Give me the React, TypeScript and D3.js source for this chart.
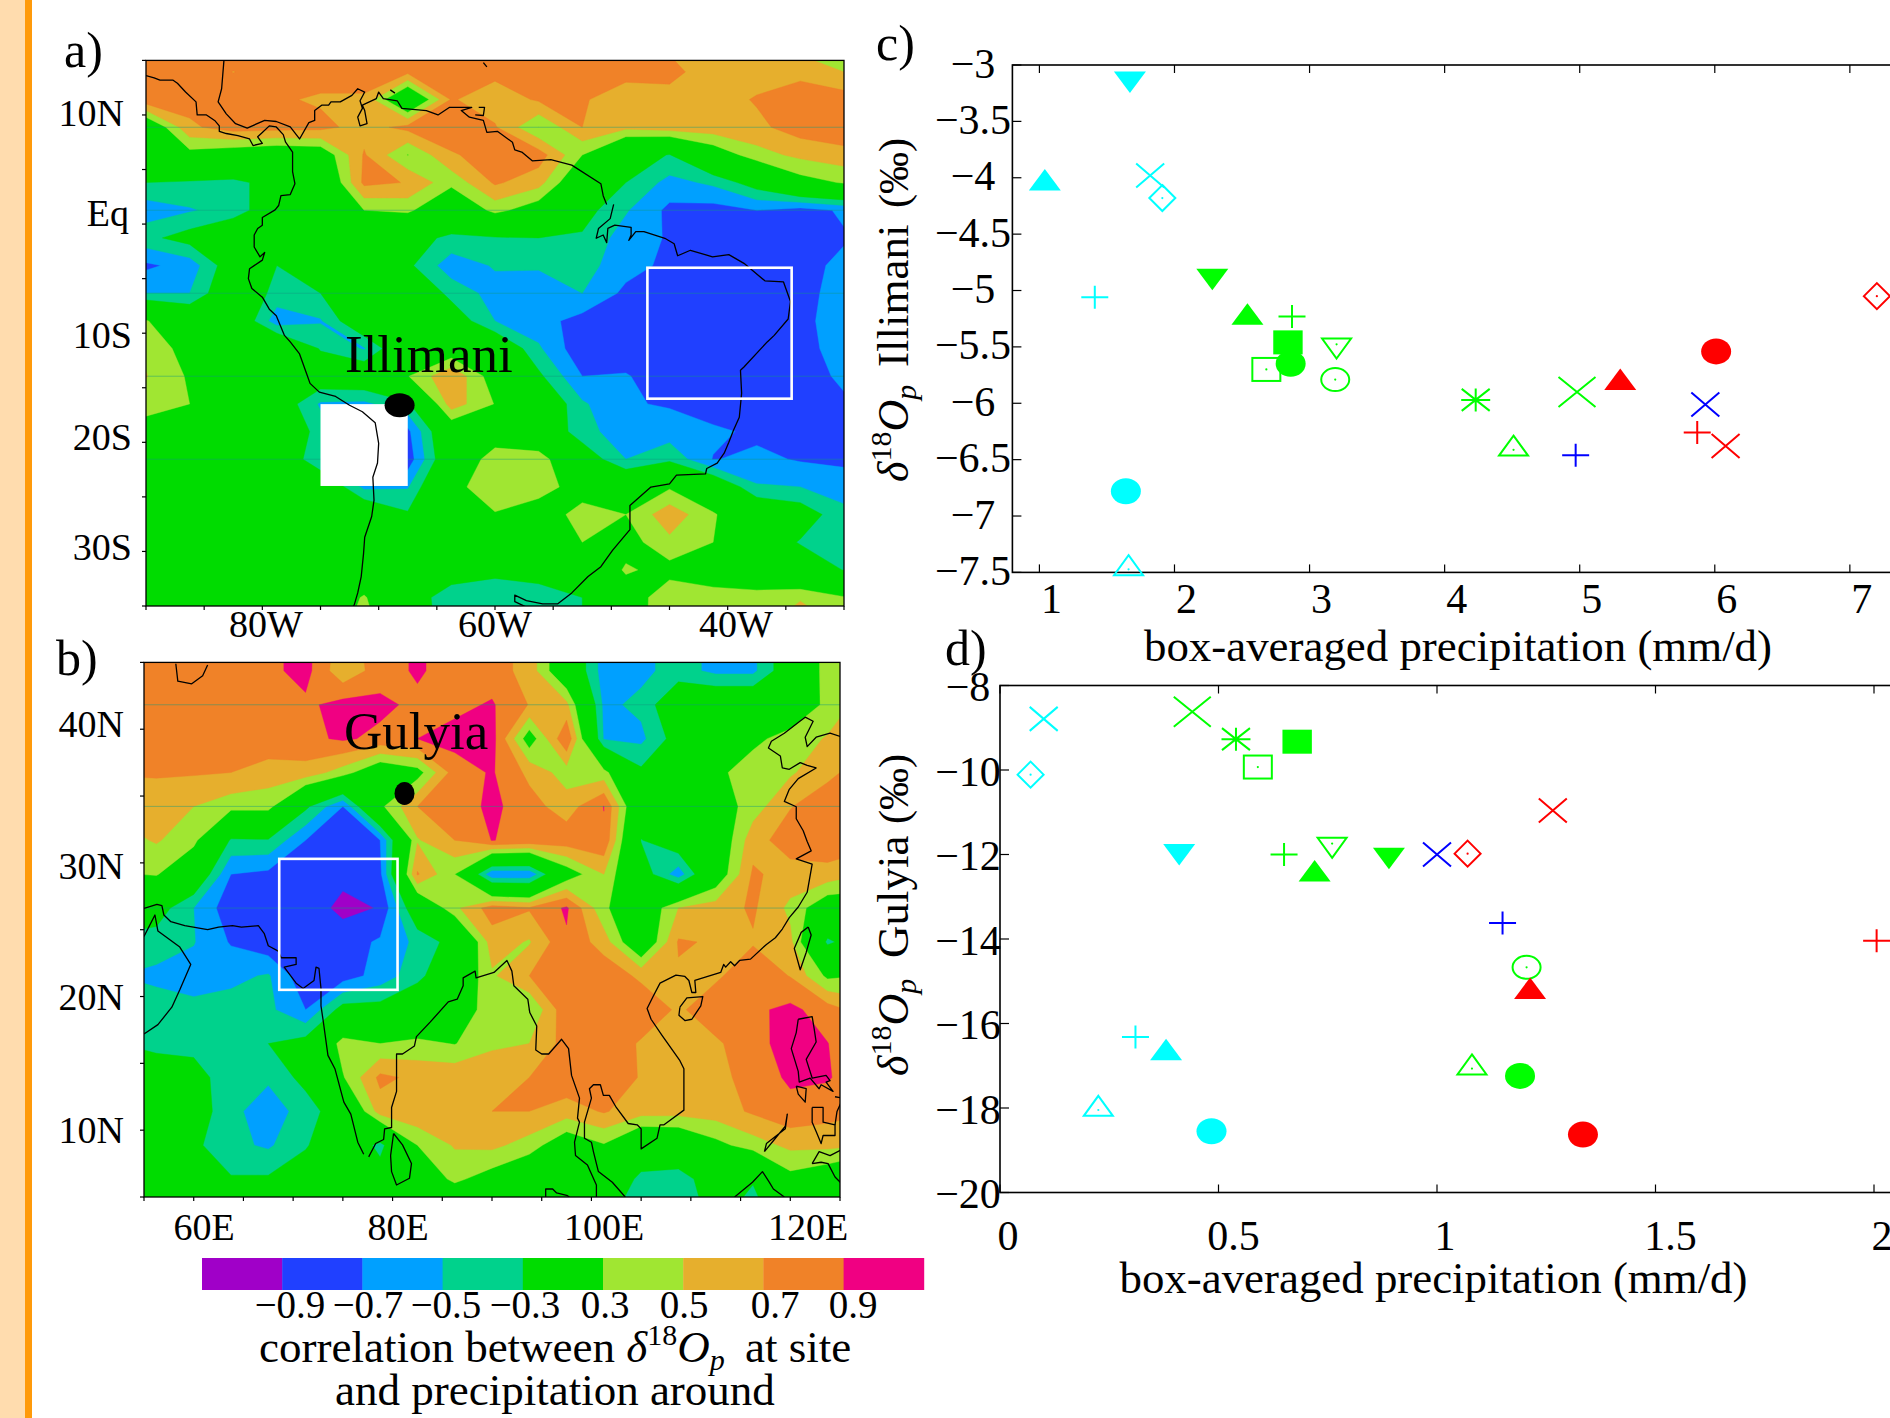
import React from 'react';
import * as d3 from 'd3';

// contour levels and their colours, lowest band first
const levels = [-0.9, -0.7, -0.5, -0.3, 0.3, 0.5, 0.7, 0.9];
const bandColors = ['#a000c8', '#2040ff', '#00a0ff', '#00d28c', '#00dc00', '#a0e632', '#e6af2d', '#f08228', '#f00082'];
const levelLabels = ['−0.9', '−0.7', '−0.5', '−0.3', '0.3', '0.5', '0.7', '0.9'];

// Illimani map: correlation on the model grid, rows k=29..50, lon -90..-30 step 3.75
const illimaniGrid = [
  [.85,.85,.85,.85,.85,.85,.8,.8,.85,.85,.85,.8,.65,.55,.5,.4,.35],
  [.85,.82,.695,.8,.8,.8,.75,.8,.76,.85,.85,.76,.78,.56,.6,.65,.5],
  [.83,.78,.85,.73,.67,.67,-.1,.72,.58,.727,.72,.6,.6,.6,.72,.8,.8],
  [0,.66,.8,.78,.76,.62,.76,.82,.72,.299,.7,.55,.61,.62,.65,.8,.85],
  [-.05,.21,.12,.05,.1,.72,.29,.68,.78,.8,.3,-.18,-.31,.12,.42,.55,.625],
  [-.3,-.33,-.36,-.2,-.1,.75,.69,.36,.73,.58,0,-.3,-.57,-.46,-.17,.2,.32],
  [-.62,-.52,-.42,-.1,-.1,.3,.35,0,.37,.15,-.2,-.48,-.75,-.78,-.7,-.78,-.67],
  [-.36,-.2,0,0,-.1,0,-.2,-.35,-.32,-.3,-.33,-.6,-.72,-.85,-.85,-.85,-.72],
  [-.74,-.62,-.12,-.3,0,0,-.25,-.62,-.48,-.47,-.42,-.62,-.75,-.85,-.85,-.77,-.65],
  [-.5,-.5,-.03,-.38,-.3,0,0,-.37,-.58,-.65,-.5,-.75,-.88,-.85,-.85,-.78,-.6],
  [.32,0,0,-.62,-.52,-.03,-.1,-.13,-.5,-.62,-.78,-.85,-.88,-.85,-.85,-.78,-.55],
  [.45,.2,0,.1,-.32,-.52,0,.1,0,-.47,-.85,-.85,-.85,-.85,-.85,-.78,-.6],
  [.51,.27,0,0,-.1,-.05,.29,.68,.16,-.25,-.7,-.68,-.85,-.85,-.85,-.82,-.65],
  [.42,.3,0,-.1,-.53,-.55,-.35,.61,.29,0,-.47,-.68,-.72,-.85,-.85,-.85,-.74],
  [.15,.1,0,0,-.4,-.85,-.75,.07,.1,-.05,-.42,-.62,-.6,-.65,-.75,-.85,-.85],
  [.1,.1,0,0,-.5,-.85,-.82,0,.44,.44,-.12,-.5,-.35,-.71,-.65,-.72,-.75],
  [.05,.05,0,0,0,-.55,-.52,.2,.48,.48,.1,.05,.27,0,-.48,-.5,-.58],
  [.05,.05,0,0,0,0,-.27,0,.28,.05,.45,.3,.63,.33,0,-.15,-.45],
  [.05,.05,0,0,0,0,0,0,0,.1,.3,.2,.45,.3,-.1,-.32,-.42],
  [.05,.05,0,0,0,0,0,-.15,-.22,-.15,0,.33,.22,.2,0,-.1,-.31],
  [.05,.05,0,0,0,.33,-.15,-.43,-.48,-.45,-.3,.15,.44,.36,.41,.47,.32],
  [.05,.05,0,0,0,.45,-.15,-.4,-.4,-.4,-.3,.15,.45,.42,.42,.7,.45],
];

// Gulyia map: rows k=17..34, lon 52.5..127.5 step 3.75
const gulyiaGrid = [
  [.8,.8,.8,.8,.85,.97,.6,.8,.93,.8,.8,.62,.02,-.6,-.55,-.42,-.55,-.55,-.1,.41,.5],
  [.8,.8,.8,.8,.85,.97,.55,.8,.93,.8,.8,.62,.02,-.6,-.55,-.42,-.55,-.55,-.1,.41,.5],
  [.8,.8,.8,.8,.8,.86,.97,.95,.85,.85,.92,.69,.55,-.55,-.45,-.05,0,0,.1,.35,.6],
  [.8,.8,.8,.8,.85,.85,.93,.85,.9,.97,.98,.16,.88,-.52,-.55,-.18,.1,.25,.38,.52,.65],
  [.72,.72,.72,.7,.6,.62,.4,.05,.2,.8,.92,.65,.4,.38,-.25,0,.25,.4,.47,.65,.8],
  [.55,.6,.5,.38,.38,-.25,-.7,.25,.7,.78,.95,.78,.6,.905,-.1,-.05,.15,.4,.69,.82,.8],
  [.42,.52,.37,-.33,-.32,-.7,-.88,-.7,.48,.7,.905,.85,.82,.87,-.31,-.1,.05,.62,.8,.85,.8],
  [.28,.32,0,-.7,-.75,-.85,-.85,-.75,.72,.3,-.67,-.67,.15,.5,-.15,-.62,.1,.73,.62,.62,.5],
  [0,-.18,-.5,-.83,-.85,-.8,-.95,-.89,-.05,.45,.8,.72,.93,.34,.05,.5,.6,.73,.45,.1,.1],
  [-.4,-.4,-.49,-.72,-.85,-.85,-.8,-.67,-.45,-.2,.6,.48,.87,.6,0,.72,.68,.68,.55,-.35,-.1],
  [-.5,-.55,-.58,-.55,-.48,-.85,-.8,-.62,-.38,0,.47,.7,.88,.85,.65,.675,.66,.85,.69,.25,.3],
  [-.4,-.4,-.45,-.42,-.45,-.7,-.2,-.2,0,.12,.42,.295,.85,.88,.88,.66,.85,.86,.95,.8,.6],
  [-.3,-.38,-.37,-.45,-.3,-.2,.4,.3,.35,.29,.46,.5,.78,.88,.67,.6,.66,.85,.96,.905,.7],
  [-.05,-.1,-.2,-.43,-.47,-.22,.28,.75,.65,.65,.65,.7,.85,.88,.68,.6,.62,.8,.93,.92,.75],
  [0,0,-.15,-.45,-.6,-.42,-.12,.6,.67,.68,.7,.7,.6,.72,.58,.58,.6,.73,.84,.78,.72],
  [0,0,-.25,-.45,-.53,-.33,0,-.38,.3,.52,.55,.41,.1,.28,-.05,-.02,.23,.4,.55,.55,.5],
  [0,0,-.05,-.28,-.27,-.1,0,-.15,.1,.35,.18,0,0,0,-.37,-.42,-.13,-.27,.22,.1,-.15],
  [0,0,0,0,0,0,0,0,0,-.1,0,0,-.1,-.2,-.5,-.5,-.2,-.45,0,-.25,-.5],
];

// coastlines, lon/lat
const saPacific = [[-90,13.6],[-89.3,13.4],[-88.8,13.2],[-87.7,13.2],[-87.3,12.9],[-86.6,12.1],[-85.7,11.2],[-85.6,10],[-84.8,10],[-84.1,9.5],[-83.7,9],[-83.7,8.5],[-83.1,8.3],[-82.1,8.1],[-81.1,7.8],[-80.8,7.2],[-80,7.4],[-80.4,8],[-80,8.4],[-79.4,9],[-78.8,8.9],[-78.2,8.2],[-78,7.5],[-77.4,6.6],[-77.4,4.8],[-77.2,3.7],[-77.6,2.7],[-78.4,2.6],[-78.6,1.7],[-78.9,1.3],[-80,.6],[-80,-.1],[-80.4,-.4],[-80.7,-1],[-80.7,-2.1],[-80.2,-3],[-79.8,-2.6],[-80,-3.3],[-81.1,-4.1],[-81.2,-5],[-80.9,-5.9],[-80,-6.7],[-79.4,-7.8],[-78.8,-8.4],[-78.1,-10.2],[-77.6,-10.8],[-76.8,-11.9],[-76.2,-13.7],[-75.9,-14.6],[-75.1,-15.4],[-73.7,-15.8],[-72.5,-16.6],[-71.4,-17.2],[-70.3,-18.2],[-70,-20.1],[-70.1,-21.9],[-70.5,-23.2],[-70.4,-25.3],[-70.6,-26.8],[-71.2,-28.7],[-71.3,-30.2],[-71.5,-32.3],[-71.8,-33.8],[-72.1,-34.9],[-72.5,-35.5]];
const saCaribbean = [[-83.3,15],[-83.5,12.4],[-83.8,11.2],[-83.1,10.1],[-82.3,9.2],[-81.3,8.8],[-79.8,9.5],[-78.8,9.4],[-77.6,8.9],[-76.8,7.8],[-76,9.3],[-75.5,9.5],[-75.5,10.4],[-74.9,10.9],[-74.3,10.9],[-74.1,11.2],[-73.3,11.2],[-72.3,11.8],[-71.8,12.4],[-71.2,12.1],[-71.6,11.3],[-71.4,10.6],[-71.8,9.8],[-71.6,9],[-71,9.2],[-71.2,10.4],[-71.4,10.9],[-70.2,11.5],[-70,12.1],[-69.6,11.5],[-68.4,11.3],[-68,10.6],[-65.9,10.4],[-64.9,10],[-63.9,10.7],[-62,10.7],[-62.9,10.4],[-62.2,9.8],[-61,9.5],[-60.7,8.4],[-59.8,8.5],[-58.5,7.5],[-58.3,6.8],[-57.7,6.6],[-56.8,5.8],[-55.2,5.9],[-53.4,5.4],[-50.9,3.7],[-50.7,2.6],[-50.4,1.8]];
const saAtlantic = [[-49.8,1.8],[-50.1,.5],[-51.1,-.4],[-51.3,-1.3],[-50.7,-1],[-50.4,-1.7],[-50.3,-.4],[-49.7,-.1],[-48.3,-.3],[-48.3,-1],[-48.5,-1.5],[-47.9,-.7],[-47.2,-.7],[-45.4,-1.3],[-44.6,-1.8],[-44.3,-2.9],[-43.2,-2.4],[-41.3,-3],[-39.9,-2.8],[-38.6,-3.6],[-36.8,-5.2],[-35.2,-5.3],[-34.6,-7.1],[-34.8,-8.7],[-36,-10.2],[-36.6,-10.8],[-38.6,-13.1],[-38.9,-13.4],[-38.8,-15.5],[-39,-17.7],[-39.5,-18.9],[-39.9,-20],[-40.3,-21],[-40.9,-21.9],[-41.8,-22.4],[-41.9,-22.9],[-44.4,-23],[-45,-23.8],[-46.6,-24.1],[-48.4,-25.8],[-48.4,-28],[-48.8,-28.5],[-49.9,-29.9],[-50.9,-31.4],[-52,-32.3],[-53.4,-33.8],[-54.6,-34.8],[-55.9,-34.8],[-57.3,-34.5],[-58.3,-34],[-58.3,-34.6],[-57.3,-35.1]];
const saIslands = [
  [[-69,12.3],[-68.6,12]],
  [[-61,14.8],[-60.7,14.4]],
  [[-61.4,10.7],[-60.9,10.7],[-61,9.95],[-61.7,10]],
];
const aralSea = [[58.2,44.9],[58.4,43.6],[59.8,43.4],[60.9,44],[61.4,44.8]];
const iranIndiaWest = [[55,26.6],[56.3,26.9],[56.8,26.8],[57,26.1],[57.7,25.6],[59.1,25.3],[61.4,25],[62.5,25.2],[63.9,25.3],[64.8,25.2],[66.5,25.3],[67.1,24.7],[67.5,23.8],[68.5,23.4],[68.8,22.9],[70.3,22.9],[70.3,22.4],[69.1,22.2],[70.3,21],[71,20.6],[72.1,21.2],[72.3,22.2],[72.6,22.1],[72.8,20.6],[72.8,19.3],[73,18.3],[73.5,15.6],[74.2,14.6],[75.1,12.1],[75.8,11.2],[76.5,9.1],[77.1,8.2]];
const oman = [[55,24.5],[56.1,26.1],[56.4,24.9],[58.6,23.7],[59.7,22.4],[58.6,20.5],[57.8,19.2],[56.4,17.9],[55,17.2]];
const bayOfBengal = [[77.6,8],[78.3,9],[79.1,9.3],[79.2,10.1],[79.9,10.2],[79.9,11.7],[80.4,12.9],[80.4,15.7],[81,15.7],[82.2,16.3],[82.4,17],[83.8,18.1],[85.6,19.6],[86.5,19.8],[87.1,20.8],[87.1,21.4],[88.3,21.9],[88.4,21.4],[90.2,21.8],[91.5,22.7],[92,21.9],[92.2,20.8],[93.6,19.8],[93.8,18.8],[94.5,17.8],[94.4,16],[95,15.7],[95.7,15.7],[97,16.8],[97.7,16.1],[98,14.1],[98.8,12.4],[98.6,10.9],[98.8,10.6],[98.3,9.1],[98.4,8.1],[99.6,7.4],[100.5,5.9],[100.5,5]];
const chinaCoast = [[103.4,5],[102.1,6.1],[100.7,6.9],[100.2,8.4],[100,9.1],[99.3,9.4],[99.3,10.6],[100,12.4],[99.8,13.1],[100.2,13.4],[100.9,13.4],[101.2,12.6],[101.8,12.6],[102.5,11.7],[103.7,10.5],[104.6,10.4],[105,10.1],[105,8.6],[106.6,9.4],[106.9,10.4],[107.3,10.4],[109.3,11.5],[109.3,14.6],[108.9,15.2],[107.1,17.1],[106,18.3],[105.6,19.1],[106.2,20],[106.9,21],[108.5,21.6],[109.4,21.5],[109.8,21.2],[110.1,20.3],[110.5,20.3],[110.4,21.2],[113,21.8],[113.3,22.4],[113.5,22.2],[114,22.6],[114.4,22.3],[114.9,22.7],[116,22.8],[117.6,23.9],[118.5,24.4],[119.2,25.05],[119.9,25.9],[120.8,26.7],[121.7,27.8],[122.2,29.9],[120.6,30.3],[122.1,30.9],[121.7,31.6],[121.3,32.4],[120.6,33.3],[120.6,34.2],[119.4,34.6],[119.9,35.5],[120.8,36.3],[122.6,37.1],[121.7,37.3],[121,37.5],[119.9,37],[119.2,37.1],[119,38],[117.8,38.6],[118.1,39.1],[119.4,39.7],[120.8,40.5],[121.5,40.9],[122.3,40.6],[121.5,39.4],[121.7,38.7],[122.6,39.4],[124,39.7],[125.3,39.4]];
const asiaIslands = [
  [[80.1,9.75],[81,8.9],[81.9,7.5],[81.7,6.4],[80.4,5.9],[79.9,6.9],[79.8,8.1],[80.1,9.75]],
  [[108.9,19.2],[109.6,19.9],[111.2,20],[111,19.3],[110.1,18.3],[109.4,18.2],[108.8,18.6],[108.9,19.2]],
  [[121.8,25.2],[122.1,24.6],[121.6,23.3],[121,22],[120.4,23.6],[121.1,24.8],[121.8,25.2]],
  [[120.8,18.3],[122.2,18.5],[122.4,17.6],[122.6,16.6],[121.6,15.3],[122.2,13.9],[123.6,14.1],[124,13.7],[123.6,13.6],[124.3,12.9],[123.1,13.4],[122.9,13.1],[122,13.9],[120.9,13.6],[120.8,14.4],[120.1,16.1],[120.6,17.3],[120.8,18.3]],
  [[120.6,13.3],[121.6,13.1],[121.5,12.1],[120.8,12.7],[120.6,13.3]],
  [[117.4,8.4],[117.6,9],[119.5,10.1],[119.7,11.2],[119.5,10.3],[118.4,9.3],[117.4,8.4]],
  [[122.2,11.7],[123.3,11.7],[123.3,10.6],[124.5,10.4],[124.5,9.6],[123.3,9.6],[123.1,9],[122.6,9.9],[122.2,10.6],[122.2,11.7]],
  [[124.5,12.5],[125.3,12.4],[124.7,11.4],[124.5,10.4]],
  [[122.2,7.5],[122.9,8.4],[124,8.1],[125.3,8.6]],
  [[122.2,7.5],[123.1,7.6],[123.8,7.5],[124.5,6.5],[125.3,5.9]],
  [[95.4,5],[95.4,5.6],[96.1,5.6],[96.5,5.3],[97.6,5.1],[97.9,4.9]],
  [[114.4,5],[116.2,6.1],[117.2,6.9],[117.9,6.1],[118.3,5.6],[119.4,5]],
];

// scatter data: one simulation per id
const illimaniIds = ['cyan-triDown','cyan-triUp','cyan-cross','cyan-diamond','cyan-plus','cyan-disc','cyan-triOpen','green-triDown','green-triUp','green-plus','green-square','green-disc','green-box','green-triOpenDown','green-ring','green-star','green-triOpen','green-bigCross','blue-plus','blue-cross','red-triUp','red-disc','red-plus','red-cross','red-diamond'];
const illimaniPrecip = [1.67,1.04,1.82,1.91,1.41,1.64,1.66,2.28,2.54,2.87,2.84,2.86,2.68,3.2,3.19,4.23,4.51,4.98,4.97,5.93,5.3,6.01,5.87,6.08,7.2];
const illimaniDelta = [-3.15,-4.02,-3.98,-4.18,-5.06,-6.78,-7.44,-4.9,-5.21,-5.23,-5.46,-5.65,-5.7,-5.51,-5.79,-5.97,-6.38,-5.9,-6.46,-6.01,-5.79,-5.54,-6.26,-6.38,-5.05];
const gulyiaIds = ['cyan-cross','cyan-diamond','green-bigCross','green-star','green-square','green-box','cyan-triDown','green-plus','green-triOpenDown','green-triUp','green-triDown','blue-cross','red-diamond','red-cross','blue-plus','red-plus','green-ring','red-triUp','cyan-plus','cyan-triUp','green-triOpen','green-disc','cyan-triOpen','cyan-disc','red-disc'];
const gulyiaPrecip = [.1,.07,.44,.54,.68,.59,.41,.65,.76,.72,.89,1,1.07,1.265,1.15,2.006,1.205,1.213,.31,.38,1.08,1.19,.225,.484,1.334];
const gulyiaDelta = [-8.79,-10.11,-8.62,-9.27,-9.33,-9.93,-12,-12,-11.83,-12.39,-12.09,-12,-11.98,-10.96,-13.62,-14.04,-14.67,-15.17,-16.32,-16.62,-16.98,-17.24,-17.96,-18.55,-18.63];

const illimaniXTicks = [1, 2, 3, 4, 5, 6, 7];
const illimaniYTicks = [-3, -3.5, -4, -4.5, -5, -5.5, -6, -6.5, -7, -7.5];
const gulyiaXTicks = [0, 0.5, 1, 1.5, 2];
const gulyiaYTicks = [-8, -10, -12, -14, -16, -18, -20];

const serif = '"Liberation Serif", serif';
const latOfRow = (k: number) => 90 - (k * 180) / 71;
const lineOf = d3.line();
const minus = (s: string) => s.replace('-', '−');

const markerColor: Record<string, string> = { cyan: '#00ffff', green: '#00ff00', blue: '#0000ff', red: '#ff0000' };

function Marker({ id, x, y }: { id: string; x: number; y: number }) {
  const [colorName, shape] = id.split('-');
  const c = markerColor[colorName];
  const t = `translate(${x},${y})`;
  const sw = 2;
  const dot = (dy = 0) => <circle cy={dy} r={1.1} fill={c} />;
  switch (shape) {
    case 'triUp':
      return <path transform={t} d="M0,-11 L16,10.5 L-16,10.5 Z" fill={c} />;
    case 'triDown':
      return <path transform={t} d="M0,11 L16,-10.5 L-16,-10.5 Z" fill={c} />;
    case 'disc':
      return <ellipse transform={t} rx={15} ry={13} fill={c} />;
    case 'square':
      return <rect transform={t} x={-14.7} y={-12} width={29.4} height={24} fill={c} />;
    case 'box':
      return <g transform={t}><rect x={-14} y={-11.5} width={28} height={23} fill="none" stroke={c} strokeWidth={sw} />{dot()}</g>;
    case 'ring':
      return <g transform={t}><ellipse rx={14} ry={11.5} fill="none" stroke={c} strokeWidth={sw} />{dot()}</g>;
    case 'diamond':
      return <g transform={t}><path d="M0,-13 L13,0 L0,13 L-13,0 Z" fill="none" stroke={c} strokeWidth={sw} />{dot()}</g>;
    case 'triOpen':
      return <g transform={t}><path d="M0,-10.5 L14.5,9.5 L-14.5,9.5 Z" fill="none" stroke={c} strokeWidth={sw} />{dot(3.7)}</g>;
    case 'triOpenDown':
      return <g transform={t}><path d="M0,10.5 L14.5,-9.5 L-14.5,-9.5 Z" fill="none" stroke={c} strokeWidth={sw} />{dot(-3.7)}</g>;
    case 'plus':
      return <path transform={t} d="M-13.5,0 H13.5 M0,-11.5 V11.5" stroke={c} strokeWidth={sw} />;
    case 'cross':
      return <path transform={t} d="M-14,-12 L14,12 M-14,12 L14,-12" stroke={c} strokeWidth={sw} />;
    case 'bigCross':
      return <path transform={t} d="M-18.5,-15 L18.5,15 M-18.5,15 L18.5,-15" stroke={c} strokeWidth={sw} />;
    default:
      return <path transform={t} d="M-14.5,0 H14.5 M0,-11.5 V11.5 M-14,-11 L14,11 M-14,11 L14,-11" stroke={c} strokeWidth={sw} />;
  }
}

type MapProps = {
  clipId: string;
  grid: number[][];
  lonStart: number;
  firstRow: number;
  lonDomain: [number, number];
  latDomain: [number, number];
  box: { x: number; y: number; w: number; h: number };
  lonTicks: number[];
  latTicks: number[];
  faintRows: number[];
  children: (x: any, y: any) => React.ReactNode;
};

function ContourMap({ clipId, grid, lonStart, firstRow, lonDomain, latDomain, box, lonTicks, latTicks, faintRows, children }: MapProps) {
  const x = d3.scaleLinear().domain(lonDomain).range([box.x, box.x + box.w]);
  const y = d3.scaleLinear().domain(latDomain).range([box.y, box.y + box.h]);
  const nRows = grid.length;
  const nCols = grid[0].length;
  const shapes = d3.contours().size([nCols, nRows]).thresholds(levels)(grid.flat());
  const gridPath = d3.geoPath(
    d3.geoTransform({
      point(px: number, py: number) {
        // d3.contours puts a value at the centre of its cell
        (this as any).stream.point(x(lonStart + (px - 0.5) * 3.75), y(latOfRow(firstRow + py - 0.5)));
      },
    })
  );
  return (
    <g>
      <clipPath id={clipId}>
        <rect x={box.x} y={box.y} width={box.w} height={box.h} />
      </clipPath>
      <g clipPath={`url(#${clipId})`}>
        <rect x={box.x} y={box.y} width={box.w} height={box.h} fill={bandColors[0]} />
        {shapes.map((s, i) => (
          <path key={i} d={gridPath(s as any) || ''} fill={bandColors[i + 1]} stroke={bandColors[i + 1]} strokeWidth={0.4} />
        ))}
        {faintRows.map((k) => (
          <line key={k} x1={box.x} x2={box.x + box.w} y1={y(latOfRow(k))} y2={y(latOfRow(k))} stroke="#109880" strokeOpacity={0.45} strokeWidth={1} />
        ))}
        {children(x, y)}
      </g>
      <rect x={box.x} y={box.y} width={box.w} height={box.h} fill="none" stroke="#000" strokeWidth={1.3} />
      {lonTicks.map((t) => (
        <line key={t} x1={x(t)} x2={x(t)} y1={box.y + box.h} y2={box.y + box.h + 4} stroke="#000" strokeWidth={1.2} />
      ))}
      {latTicks.map((t) => (
        <line key={t} x1={box.x - 4} x2={box.x} y1={y(t)} y2={y(t)} stroke="#000" strokeWidth={1.2} />
      ))}
    </g>
  );
}

function Coast({ lines, x, y }: { lines: number[][][]; x: any; y: any }) {
  return (
    <g fill="none" stroke="#000" strokeWidth={1.3} strokeLinejoin="round">
      {lines.map((l, i) => (
        <path key={i} d={lineOf(l.map((p) => [x(p[0]), y(p[1])] as [number, number])) || ''} />
      ))}
    </g>
  );
}

function Scatter({ ids, xs, ys, xDomain, yDomain, box, xTicks, yTicks, xLabelDx, yLabelX, yLabelDy, xLabelY, xTitleX, xTitleY }: any) {
  const x = d3.scaleLinear().domain(xDomain).range([box.x, box.x + box.w]);
  const y = d3.scaleLinear().domain(yDomain).range([box.y, box.y + box.h]);
  return (
    <g fontFamily={serif} fill="#000">
      <rect x={box.x} y={box.y} width={box.w} height={box.h} fill="none" stroke="#000" strokeWidth={1.6} />
      {xTicks.map((t: number) => (
        <g key={t}>
          <line x1={x(t)} x2={x(t)} y1={box.y} y2={box.y + 8} stroke="#000" strokeWidth={1.2} />
          <line x1={x(t)} x2={x(t)} y1={box.y + box.h - 8} y2={box.y + box.h} stroke="#000" strokeWidth={1.2} />
          <text x={x(t) + xLabelDx(t)} y={xLabelY} fontSize={42} textAnchor="middle">{String(t)}</text>
        </g>
      ))}
      {yTicks.map((t: number) => (
        <g key={t}>
          <line x1={box.x} x2={box.x + 9} y1={y(t)} y2={y(t)} stroke="#000" strokeWidth={1.2} />
          <text x={yLabelX} y={y(t) + yLabelDy} fontSize={42} textAnchor="middle">{minus(String(t))}</text>
        </g>
      ))}
      {ids.map((id: string, i: number) => (
        <Marker key={id} id={id} x={x(xs[i])} y={y(ys[i])} />
      ))}
      <text x={xTitleX} y={xTitleY} fontSize={45} textLength={628} lengthAdjust="spacingAndGlyphs">box-averaged precipitation (mm/d)</text>
    </g>
  );
}

// rotated y title; the three parts are placed apart along the axis
function DeltaLabel({ x, y, site, siteAt, unitAt }: { x: number; y: number; site: string; siteAt: number; unitAt: number }) {
  return (
    <text transform={`translate(${x},${y}) rotate(-90)`} fontFamily={serif} fontSize={44}>
      <tspan fontStyle="italic">δ</tspan>
      <tspan fontSize={30} dy={-17}>18</tspan>
      <tspan fontStyle="italic" dy={17}>O</tspan>
      <tspan fontStyle="italic" fontSize={30} dy={8}>p</tspan>
      <tspan x={siteAt} dy={-8} fontSize={45}>{site}</tspan>
      <tspan x={unitAt} fontSize={42}>(‰)</tspan>
    </text>
  );
}

export default function App() {
  const illimaniXLabelDx = () => 12;
  const gulyiaXLabelDx = (t: number) => (Number.isInteger(t) ? 8 : 15);
  return (
    <svg width={1890} height={1418} viewBox="0 0 1890 1418" style={{ position: 'absolute', left: 0, top: 0, display: 'block', background: '#fff' }}>
      <rect x={0} y={0} width={25} height={1418} fill="#ffdcae" />
      <rect x={25} y={0} width={7} height={1418} fill="#ff9a0a" />

      {/* a) Illimani map */}
      <ContourMap
        clipId="mapA"
        grid={illimaniGrid}
        lonStart={-90}
        firstRow={29}
        lonDomain={[-90, -30]}
        latDomain={[15, -35]}
        box={{ x: 146, y: 60.4, w: 698, h: 545.6 }}
        lonTicks={d3.range(-90, -29, 5)}
        latTicks={d3.range(-35, 16, 5)}
        faintRows={[32, 35, 38, 41, 44]}
      >
        {(x, y) => (
          <>
            <rect x={x(-75)} y={y(-16.5)} width={x(-67.5) - x(-75)} height={y(-24) - y(-16.5)} fill="#fff" />
            <Coast lines={[saPacific, saCaribbean, saAtlantic, ...saIslands]} x={x} y={y} />
            <rect x={x(-46.9)} y={y(-4)} width={x(-34.5) - x(-46.9)} height={y(-16) - y(-4)} fill="none" stroke="#fff" strokeWidth={2.6} />
            <ellipse cx={x(-68.2)} cy={y(-16.6)} rx={15} ry={12} fill="#000" />
          </>
        )}
      </ContourMap>

      {/* b) Gulyia map */}
      <ContourMap
        clipId="mapB"
        grid={gulyiaGrid}
        lonStart={52.5}
        firstRow={17}
        lonDomain={[55, 125]}
        latDomain={[45, 5]}
        box={{ x: 144, y: 662.4, w: 696, h: 534.6 }}
        lonTicks={d3.range(55, 126, 5)}
        latTicks={d3.range(5, 46, 5)}
        faintRows={[19, 22, 25]}
      >
        {(x, y) => (
          <>
            <Coast lines={[aralSea, iranIndiaWest, oman, bayOfBengal, chinaCoast, ...asiaIslands]} x={x} y={y} />
            <rect x={x(68.6)} y={y(30.3)} width={x(80.5) - x(68.6)} height={y(20.5) - y(30.3)} fill="none" stroke="#fff" strokeWidth={2.6} />
            <ellipse cx={x(81.2)} cy={y(35.2)} rx={10} ry={11.5} fill="#000" />
          </>
        )}
      </ContourMap>

      <g fontFamily={serif} fill="#000">
        <text x={64} y={67} fontSize={50}>a)</text>
        <text x={56} y={675} fontSize={50}>b)</text>
        <text x={876} y={60} fontSize={50}>c)</text>
        <text x={945} y={665} fontSize={50}>d)</text>

        <text x={345} y={372} fontSize={53}>Illimani</text>
        <text x={344} y={749} fontSize={53}>Gulyia</text>

        <g fontSize={38} textAnchor="end">
          <text x={124} y={126}>10N</text>
          <text x={129} y={226}>Eq</text>
          <text x={132} y={348}>10S</text>
          <text x={132} y={450}>20S</text>
          <text x={132} y={560}>30S</text>
          <text x={124} y={737}>40N</text>
          <text x={124} y={879}>30N</text>
          <text x={124} y={1010}>20N</text>
          <text x={124} y={1143}>10N</text>
        </g>
        <g fontSize={38} textAnchor="middle">
          <text x={266} y={637}>80W</text>
          <text x={495} y={637}>60W</text>
          <text x={736} y={637}>40W</text>
          <text x={204} y={1240}>60E</text>
          <text x={398} y={1240}>80E</text>
          <text x={604} y={1240}>100E</text>
          <text x={808} y={1240}>120E</text>
        </g>

        {/* colour key */}
        {bandColors.map((c, i) => (
          <rect key={c} x={202 + i * 80.2} y={1258} width={80.6} height={32} fill={c} />
        ))}
        {levelLabels.map((l, i) => (
          <text key={l} x={[290, 368, 446, 525, 605, 684, 775, 853][i]} y={1318} fontSize={39} textAnchor="middle">{l}</text>
        ))}
        <text x={259} y={1361.5} fontSize={45}>
          correlation between <tspan fontStyle="italic">δ</tspan>
          <tspan fontSize={30} dy={-17}>18</tspan>
          <tspan fontStyle="italic" dy={17}>O</tspan>
          <tspan fontStyle="italic" fontSize={30} dy={8}>p</tspan>
          <tspan x={745} dy={-8}>at site</tspan>
        </text>
        <text x={335} y={1405} fontSize={45}>and precipitation around</text>
      </g>

      {/* c) Illimani scatter */}
      <Scatter
        ids={illimaniIds}
        xs={illimaniPrecip}
        ys={illimaniDelta}
        xDomain={[0.8, 7.5]}
        yDomain={[-3, -7.5]}
        box={{ x: 1012.4, y: 65, w: 905, h: 507.4 }}
        xTicks={illimaniXTicks}
        yTicks={illimaniYTicks}
        xLabelDx={illimaniXLabelDx}
        yLabelX={973}
        yLabelDy={12.5}
        xLabelY={613}
        xTitleX={1144}
        xTitleY={661}
      />
      <DeltaLabel x={908} y={482} site="Illimani" siteAt={115} unitAt={274} />

      {/* d) Gulyia scatter */}
      <Scatter
        ids={gulyiaIds}
        xs={gulyiaPrecip}
        ys={gulyiaDelta}
        xDomain={[0, 2.1]}
        yDomain={[-8, -20]}
        box={{ x: 1000, y: 685.5, w: 917.7, h: 507 }}
        xTicks={gulyiaXTicks}
        yTicks={gulyiaYTicks}
        xLabelDx={gulyiaXLabelDx}
        yLabelX={968}
        yLabelDy={15.5}
        xLabelY={1250}
        xTitleX={1119.5}
        xTitleY={1293}
      />
      <DeltaLabel x={908} y={1076} site="Gulyia" siteAt={118} unitAt={252} />
    </svg>
  );
}
